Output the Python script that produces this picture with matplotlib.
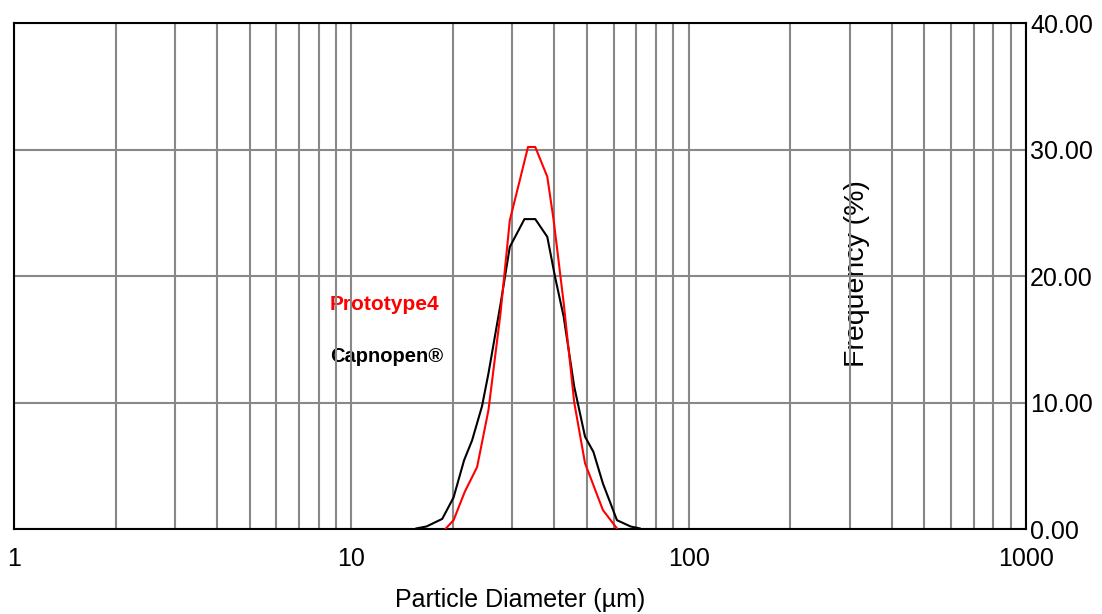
import matplotlib
matplotlib.use("Agg")
import matplotlib.pyplot as plt
from matplotlib.ticker import LogLocator, FixedLocator, NullFormatter

plt.rcParams["font.family"] = ["Liberation Sans", "DejaVu Sans"]

# particle diameter (um) vs frequency (%)
proto_d = [19.0, 20.1, 21.7, 23.6, 25.5, 27.7, 29.5, 31.6, 33.4, 35.1,
           38.1, 39.8, 42.6, 45.8, 49.3, 55.7, 61.3]
proto_f = [0.0, 0.7, 2.95, 4.9, 9.4, 17.1, 24.4, 27.6, 30.2, 30.2,
           27.85, 24.4, 17.9, 10.0, 5.2, 1.5, 0.05]

capno_d = [15.6, 16.7, 18.6, 20.1, 21.6, 22.8, 24.4, 25.5, 27.7, 29.5,
           31.3, 32.6, 35.1, 38.1, 40.2, 42.6, 45.8, 49.3, 52.2, 55.7,
           61.3, 67.3, 71.6]
capno_f = [0.05, 0.2, 0.8, 2.5, 5.45, 7.0, 9.7, 12.3, 17.8, 22.3,
           23.6, 24.5, 24.5, 23.1, 19.9, 16.8, 11.25, 7.3, 6.1, 3.6,
           0.7, 0.2, 0.05]

y_ticks = [0, 10, 20, 30, 40]
x_ticks = [1, 10, 100, 1000]

fig = plt.figure(figsize=(11.02, 6.14), dpi=100)
ax = fig.add_axes([0.0127, 0.1384, 0.9183, 0.8241])

ax.plot(capno_d, capno_f, color="black", lw=1.5, zorder=3)
ax.plot(proto_d, proto_f, color="red", lw=1.5, zorder=4)

ax.set_xscale("log")
ax.set_xlim(1, 1000)
ax.set_ylim(0, 40)

ax.xaxis.set_major_locator(FixedLocator(x_ticks))
ax.set_xticklabels([str(t) for t in x_ticks])
ax.xaxis.set_minor_locator(LogLocator(base=10, subs=range(2, 10)))
ax.xaxis.set_minor_formatter(NullFormatter())
ax.set_yticks(y_ticks)
ax.set_yticklabels([f"{t:.2f}" for t in y_ticks])
ax.yaxis.tick_right()

ax.grid(True, which="both", axis="x", color="#888888", lw=1.5, zorder=1)
ax.grid(True, which="major", axis="y", color="#888888", lw=1.5, zorder=1)
ax.tick_params(axis="both", which="both", length=0, labelsize=18)
ax.tick_params(axis="x", pad=13)
ax.tick_params(axis="y", pad=3)
for s in ax.spines.values():
    s.set_color("black")
    s.set_linewidth(1.5)

ax.set_xlabel("Particle Diameter (µm)", fontsize=18, labelpad=12)
ax.text(0.833, 0.504, "Frequency (%)", rotation=90, transform=ax.transAxes,
        fontsize=20.5, ha="center", va="center", zorder=0.5)

ax.text(0.312, 0.443, "Prototype4", color="red", fontsize=15,
        fontweight="bold", transform=ax.transAxes, va="center", zorder=0.5)
ax.text(0.312, 0.34, "Capnopen®", color="black", fontsize=14.5,
        fontweight="bold", transform=ax.transAxes, va="center", zorder=0.5)

fig.savefig("out.png", dpi=100)
